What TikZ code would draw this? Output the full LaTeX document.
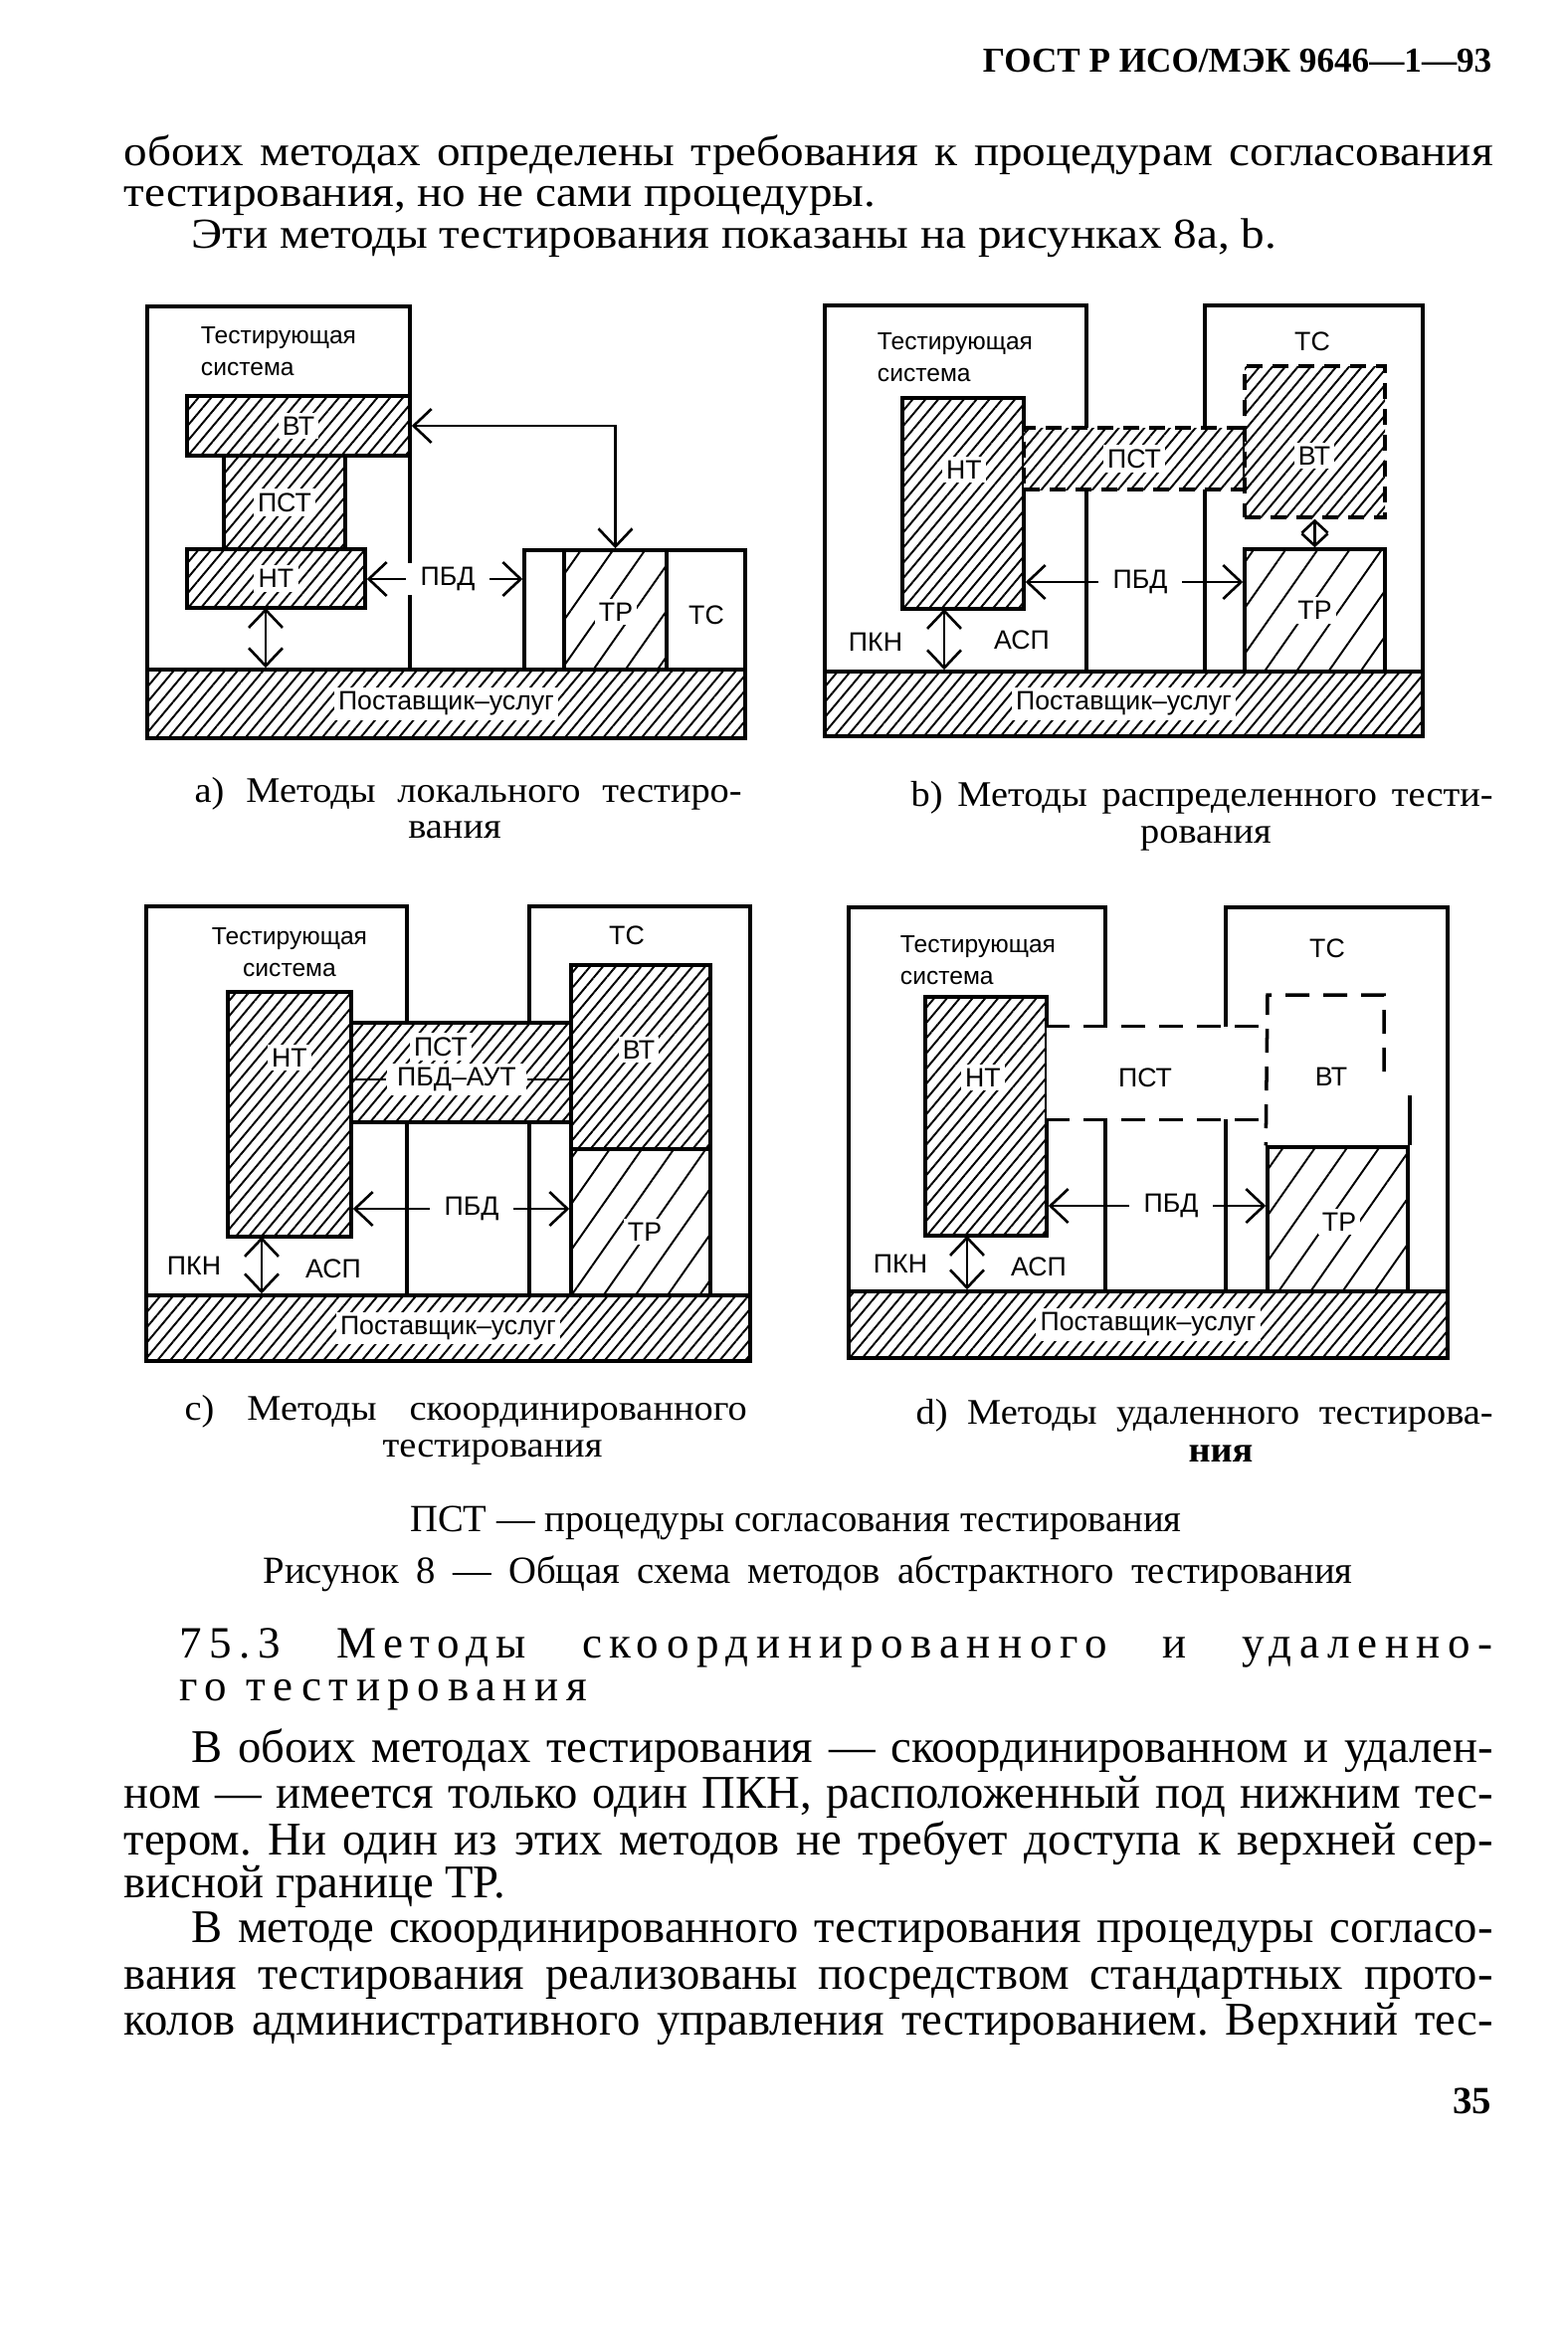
\documentclass[tikz,border=0pt]{standalone}
\usepackage{fontspec}
\setmainfont{Liberation Serif}
\setsansfont{Liberation Sans}
\newfontfamily\bodyfont{Liberation Serif}[FakeStretch=0.99]
\newfontfamily\topfont{Liberation Serif}[FakeStretch=1.1]
\newfontfamily\captfont{Liberation Serif}[FakeStretch=1.06]
\newfontfamily\spacedfont{Liberation Serif}[LetterSpace=17]
\usetikzlibrary{arrows.meta,patterns.meta,fit}
\frenchspacing

\begin{document}
\begin{tikzpicture}[x=0.1mm,y=-0.1mm,
 >={Straight Barb[length=1.8mm,width=3.4mm]},
 frame/.style={draw,line width=1pt},
 rbox/.style={frame,inner sep=0pt,fill=white},
 dense/.style={rbox,postaction={pattern={Lines[angle=50,distance=2.8pt,line width=.55pt]}}},
 sparse/.style={rbox,postaction={pattern={Lines[angle=55,distance=7.5pt,line width=.55pt]}}},
 dbox/.style={dash pattern=on 1.6mm off 1mm},
 dline/.style={line width=1pt,dash pattern=on 2.4mm off 1.4mm},
 con/.style={line width=.75pt},
 lbl/.style={font=\sffamily\fontsize{7.6}{8}\selectfont,fill=white,inner sep=1.2pt},
 sys/.style={font=\sffamily\fontsize{7}{9.2}\selectfont,align=left,inner sep=0pt},
 pbd/.style={lbl,inner xsep=4pt},
 body/.style={font=\bodyfont\fontsize{13.4}{15}\selectfont,anchor=base west,inner sep=0pt},
 tbody/.style={body,font=\topfont\fontsize{12.2}{14}\selectfont},
 capt/.style={font=\captfont\fontsize{10.3}{12}\selectfont,anchor=base west,inner sep=0pt},
 fig/.style={font=\rmfamily\fontsize{11}{13}\selectfont,anchor=base,inner sep=0pt}]
\fill[white] (0,0) rectangle (1576,2352);
\useasboundingbox (0,0) rectangle (1576,2352);

% page text above the figure
\node[font=\bfseries\fontsize{10}{12}\selectfont,anchor=base east,inner sep=0pt] (head) at (1500,72) {ГОСТ Р ИСО/МЭК 9646—1—93};
\node[tbody] (top1) at (124,166) {\makebox[137.6mm][s]{обоих методах определены требования к процедурам согласования}};
\node[tbody] (top2) at (124,207) {тестирования, но не сами процедуры.};
\node[tbody] (top3) at (192,249) {Эти методы тестирования показаны на рисунках 8a, b.};

% a) local
\draw[frame] (148,673) |- (412,308) -- (412,673);
\node[frame,inner sep=0pt,fit={(527,553) (749,673)}] (tsa) {};
\node[sparse,fit={(567,553) (670,673)}] (tra) {};
\node[dense,fit={(148,673) (749,742)}] (prova) {};
\node[dense,fit={(188,398) (412,458)}] (vta) {};
\node[dense,fit={(225,458) (347,552)}] (psta) {};
\node[dense,fit={(188,552) (367,611)}] (nta) {};
\node[sys] (sysa) at (280,353) {Тестирующая\\система};
\node[lbl] (vtla) at (vta) {ВТ};
\node[lbl] (pstla) at (psta) {ПСТ};
\node[lbl] (ntla) at (nta) {НТ};
\node[lbl] (trla) at (619,615) {ТР};
\node[lbl] (tsla) at (710,618) {ТС};
\node[lbl] (provla) at (prova) {Поставщик–услуг};
\coordinate (pkna) at (267,611);
\draw[con,<->] (pkna) -- (pkna |- prova.north);
\draw[con,<->] (vta.east) -| (tra.north);
\node[pbd] (pbda) at (450,582) {ПБД};
\draw[con,->] (pbda.west) -- (pbda.west -| nta.east);
\draw[con,->] (pbda.east) -- (pbda.east -| tsa.west);

% b) distributed
\draw[frame] (829,675) |- (1092,307) -- (1092,675);
\draw[frame] (1211,675) |- (1430,307) -- (1430,675);
\node[dense,fit={(829,675) (1430,740)}] (provb) {};
\node[dense,fit={(907,400) (1029,612)}] (ntb) {};
\node[dense,dbox,fit={(1029,430) (1251,492)}] (pstb) {};
\node[dense,dbox,fit={(1251,368) (1392,520)}] (vtb) {};
\node[sparse,fit={(1251,552) (1392,675)}] (trb) {};
\node[sys] (sysb) at (960,359) {Тестирующая\\система};
\node[lbl] (tslb) at (1319,343) {ТС};
\node[lbl] (ntlb) at (969,472) {НТ};
\node[lbl] (pstlb) at (pstb) {ПСТ};
\node[lbl] (vtlb) at (1321,458) {ВТ};
\node[lbl] (trlb) at (trb) {ТР};
\node[lbl] (pknlb) at (880,645) {ПКН};
\node[lbl] (asplb) at (1027,643) {АСП};
\node[lbl] (provlb) at (provb) {Поставщик–услуг};
\draw[con,<->,>={Straight Barb[length=1.2mm,width=2.6mm]}] (vtb.south) -- (trb.north);
\coordinate (pknb) at (949,612);
\draw[con,<->] (pknb) -- (pknb |- provb.north);
\node[pbd] (pbdb) at (1146,585) {ПБД};
\draw[con,->] (pbdb.west) -- (pbdb.west -| ntb.east);
\draw[con,->] (pbdb.east) -- (pbdb.east -| trb.west);

% captions a), b)
\node[capt] (capa1) at (195,806) {\makebox[55mm][s]{a) Методы локального тестиро-}};
\node[capt,anchor=base] (capa2) at (457,842) {вания};
\node[capt] (capb1) at (915,810) {\makebox[58.5mm][s]{b) Методы распределенного тести-}};
\node[capt,anchor=base] (capb2) at (1212,847) {рования};

% c) coordinated
\draw[frame] (147,1302) |- (409,911) -- (409,1302);
\draw[frame] (532,1302) |- (754,911) -- (754,1302);
\node[dense,fit={(147,1302) (754,1368)}] (provc) {};
\node[dense,fit={(229,997) (353,1243)}] (ntc) {};
\node[dense,fit={(353,1028) (574,1128)}] (pstc) {};
\node[dense,fit={(574,970) (714,1155)}] (vtc) {};
\node[sparse,fit={(574,1155) (714,1302)}] (trc) {};
\node[sys,align=center] (sysc) at (291,957) {Тестирующая\\система};
\node[lbl] (tslc) at (630,940) {ТС};
\node[lbl] (ntlc) at (291,1063) {НТ};
\node[lbl] (pstlc) at (443,1052) {ПСТ};
\node[lbl] (vtlc) at (642,1055) {ВТ};
\node[lbl] (trlc) at (648,1238) {ТР};
\node[lbl] (pknlc) at (195,1272) {ПКН};
\node[lbl] (asplc) at (335,1275) {АСП};
\node[lbl] (provlc) at (provc) {Поставщик–услуг};
\node[lbl,inner xsep=3pt] (autc) at (459,1085) {ПБД–АУТ};
\draw[con] (autc.west) -- (autc.west -| ntc.east);
\draw[con] (autc.east) -- (autc.east -| vtc.west);
\coordinate (pknc) at (263,1243);
\draw[con,<->] (pknc) -- (pknc |- provc.north);
\node[pbd] (pbdc) at (474,1215) {ПБД};
\draw[con,->] (pbdc.west) -- (pbdc.west -| ntc.east);
\draw[con,->] (pbdc.east) -- (pbdc.east -| trc.west);

% d) remote
\draw[frame] (853,1298) |- (1111,912) -- (1111,1298);
\draw[frame] (1232,1298) |- (1455,912) -- (1455,1298);
\node[dense,fit={(853,1298) (1455,1365)}] (provd) {};
\node[dense,fit={(930,1002) (1052,1242)}] (ntd) {};
\node[fill=white,inner sep=0pt,fit={(1052,1032) (1274,1125)}] (pstd) {};
\draw[dline] (pstd.north west) -- (pstd.north east);
\draw[dline] (pstd.south west) -- (pstd.south east);
\node[sparse,fit={(1274,1153) (1415,1298)}] (trd) {};
\draw[frame] (trd.north east) -- ++(0,-50);
\draw[dline] (1391,1077) |- (1274,1000) -- (trd.north west);
\node[sys] (sysd) at (983,965) {Тестирующая\\система};
\node[lbl] (tsld) at (1334,953) {ТС};
\node[lbl] (ntld) at (988,1083) {НТ};
\node[lbl] (pstld) at (1151,1083) {ПСТ};
\node[lbl] (vtld) at (1338,1082) {ВТ};
\node[lbl] (trld) at (1346,1228) {ТР};
\node[lbl] (pknld) at (905,1270) {ПКН};
\node[lbl] (aspld) at (1044,1273) {АСП};
\node[lbl] (provld) at (provd) {Поставщик–услуг};
\coordinate (pknd) at (972,1242);
\draw[con,<->] (pknd) -- (pknd |- provd.north);
\node[pbd] (pbdd) at (1177,1212) {ПБД};
\draw[con,->] (pbdd.west) -- (pbdd.west -| ntd.east);
\draw[con,->] (pbdd.east) -- (pbdd.east -| trd.west);

% captions c), d) and figure title
\node[capt] (capc1) at (185,1427) {\makebox[56.5mm][s]{c) Методы скоординированного}};
\node[capt,anchor=base] (capc2) at (495,1464) {тестирования};
\node[capt] (capd1) at (920,1431) {\makebox[58mm][s]{d) Методы удаленного тестирова-}};
\node[capt,anchor=base] (capd2) at (1227,1469) {\bfseries ния};
\node[fig] (note) at (800,1539) {ПСТ — процедуры согласования тестирования};
\node[fig] (title) at (812,1591) {\makebox[109.5mm][s]{Рисунок 8 — Общая схема методов абстрактного тестирования}};

% section text
\node[body,font=\spacedfont\fontsize{12.8}{15}\selectfont] (sec1) at (180,1666) {\makebox[132mm][s]{75.3 Методы скоординированного и удаленно-}};
\node[body,font=\spacedfont\fontsize{12.8}{15}\selectfont] (sec2) at (180,1709) {го тестирования};
\node[body] (par1) at (192,1771) {\makebox[130.8mm][s]{В обоих методах тестирования — скоординированном и удален-}};
\node[body] (par2) at (124,1817) {\makebox[137.6mm][s]{ном — имеется только один ПКН, расположенный под нижним тес-}};
\node[body] (par3) at (124,1864) {\makebox[137.6mm][s]{тером. Ни один из этих методов не требует доступа к верхней сер-}};
\node[body] (par4) at (124,1907) {висной границе ТР.};
\node[body] (par5) at (192,1952) {\makebox[130.8mm][s]{В методе скоординированного тестирования процедуры согласо-}};
\node[body] (par6) at (124,1999) {\makebox[137.6mm][s]{вания тестирования реализованы посредством стандартных прото-}};
\node[body] (par7) at (124,2045) {\makebox[137.6mm][s]{колов административного управления тестированием. Верхний тес-}};
\node[font=\bfseries\fontsize{11}{13}\selectfont,anchor=base east,inner sep=0pt] (pageno) at (1500,2124) {35};
\end{tikzpicture}
\end{document}
